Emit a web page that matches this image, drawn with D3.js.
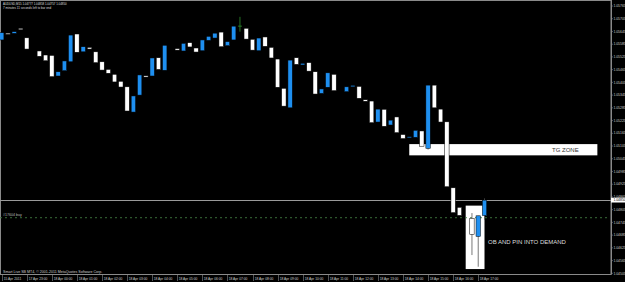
<!DOCTYPE html>
<html>
<head>
<meta charset="utf-8">
<script src="https://cdn.jsdelivr.net/npm/d3@7"></script>
<style>
  body { margin: 0; background: #000; }
  svg { display: block; }
</style>
</head>
<body>
<script>
// AUDUSD M15 bars, 15 Apr 2011 20:00 .. 18 Apr 2011 17:15
var opens = [
  1.05605, 1.05637, 1.05636, 1.05660, 1.05615, 1.05553, 1.05553, 1.05534, 1.05532, 1.05435,
  1.05460, 1.05502, 1.05633, 1.05549, 1.05570, 1.05549, 1.05502, 1.05466, 1.05443, 1.05410,
  1.05384, 1.05265, 1.05345, 1.05436, 1.05435, 1.05521, 1.05462, 1.05572, 1.05564, 1.05553,
  1.05592, 1.05567, 1.05554, 1.05603, 1.05614, 1.05642, 1.05578, 1.05605, 1.05670, 1.05660,
  1.05608, 1.05554, 1.05619, 1.05570, 1.05515, 1.05377, 1.05285, 1.05521, 1.05487, 1.05498,
  1.05455, 1.05353, 1.05382, 1.05443, 1.05364, 1.05361, 1.05384, 1.05386, 1.05323, 1.05317,
  1.05218, 1.05278, 1.05204, 1.05242, 1.05159, 1.05144, 1.05146, 1.05176, 1.05094, 1.05392,
  1.05279, 1.05219, 1.04908, 1.04816, 1.04785, 1.04764, 1.04679, 1.04777
];
var closes = [
  1.05639, 1.05633, 1.05644, 1.05653, 1.05562, 1.05553, 1.05528, 1.05507, 1.05432, 1.05455,
  1.05506, 1.05628, 1.05547, 1.05573, 1.05562, 1.05498, 1.05463, 1.05448, 1.05407, 1.05383,
  1.05270, 1.05341, 1.05440, 1.05430, 1.05520, 1.05466, 1.05580, 1.05572, 1.05557, 1.05589,
  1.05572, 1.05548, 1.05605, 1.05622, 1.05637, 1.05573, 1.05597, 1.05670, 1.05670, 1.05609,
  1.05557, 1.05614, 1.05575, 1.05520, 1.05382, 1.05293, 1.05510, 1.05490, 1.05495, 1.05458,
  1.05350, 1.05374, 1.05450, 1.05366, 1.05364, 1.05384, 1.05391, 1.05330, 1.05316, 1.05215,
  1.05279, 1.05198, 1.05227, 1.05168, 1.05140, 1.05149, 1.05179, 1.05104, 1.05392, 1.05285,
  1.05218, 1.04913, 1.04791, 1.04778, 1.04785, 1.04689, 1.04776, 1.04850
];
// wicks that can actually be seen (the rest are black on black)
var wickIdx  = [38, 68, 75, 76, 77];
var wickHigh = [1.05714, 1.05392, 1.04789, 1.04776, 1.04858];
var wickLow  = [1.05644, 1.05088, 1.04591, 1.04536, 1.04757];

var priceTicks = [
  1.05765, 1.05705, 1.05645, 1.05585, 1.05525, 1.05465, 1.05405, 1.05345, 1.05285, 1.05225, 1.05165,
  1.05105, 1.05045, 1.04985, 1.04925, 1.04865, 1.04805, 1.04745, 1.04685, 1.04625, 1.04565, 1.04505
];
var timeIdx = [0, 4, 8, 12, 16, 20, 24, 28, 32, 36, 40, 44, 48, 52, 56, 60, 64, 68, 72, 76];
var timeLabels = [
  "15 Apr 2011", "17 Apr 23:00", "18 Apr 00:00", "18 Apr 01:00", "18 Apr 02:00", "18 Apr 03:00",
  "18 Apr 04:00", "18 Apr 05:00", "18 Apr 06:00", "18 Apr 07:00", "18 Apr 08:00", "18 Apr 09:00",
  "18 Apr 10:00", "18 Apr 11:00", "18 Apr 12:00", "18 Apr 13:00", "18 Apr 14:00", "18 Apr 15:00",
  "18 Apr 16:00", "18 Apr 17:00"
];

var bidPrice = 1.04850;
var orderPrice = 1.04767;
// rectangles: [fromBar, toBar, top, bottom]
var tgZone = [65, 95, 1.05114, 1.05061];
var obZone = [74, 77, 1.04824, 1.04525];

var W = 625, H = 282, axisX = 611, bottomY = 274.5;

var svg = d3.select("body").append("svg")
    .attr("width", W)
    .attr("height", H)
    .style("background", "#000")
    .style("font-family", "'Liberation Sans', Arial, sans-serif");

var x = d3.scaleLinear().domain([0, 77]).range([1.7, 484.5]);
var y = d3.scaleLinear().domain([1.04505, 1.05765]).range([273.3, 6]);

// frame
svg.append("rect")
    .attr("x", 0.5).attr("y", 0.5)
    .attr("width", axisX - 0.5).attr("height", bottomY - 0.5)
    .attr("fill", "none").attr("stroke", "#8a8a8a").attr("stroke-width", 1);

// zones
svg.append("rect")
    .attr("x", x(tgZone[0])).attr("y", y(tgZone[2]))
    .attr("width", x(tgZone[1]) - x(tgZone[0]))
    .attr("height", y(tgZone[3]) - y(tgZone[2]))
    .attr("fill", "#fff");
svg.append("rect")
    .attr("x", x(obZone[0])).attr("y", y(obZone[2]))
    .attr("width", x(obZone[1]) - x(obZone[0]))
    .attr("height", y(obZone[3]) - y(obZone[2]))
    .attr("fill", "#fff");

// bid line
svg.append("line")
    .attr("x1", 0).attr("x2", axisX)
    .attr("y1", Math.round(y(bidPrice)) + 0.5).attr("y2", Math.round(y(bidPrice)) + 0.5)
    .attr("stroke", "#9a9a9a").attr("stroke-width", 1);

// order line
svg.append("line")
    .attr("x1", 0).attr("x2", axisX - 3)
    .attr("y1", y(orderPrice)).attr("y2", y(orderPrice))
    .attr("stroke", "#3f7a3f").attr("stroke-width", 0.9)
    .attr("stroke-dasharray", "2,3");
svg.append("text")
    .attr("x", 3).attr("y", y(orderPrice) - 1.3)
    .attr("font-size", 3.6).attr("fill", "#bbb")
    .text("#17604 buy");

// candles
var bars = d3.range(opens.length);
var g = svg.append("g");

g.selectAll("line.wick")
  .data(wickIdx)
  .enter().append("line")
    .attr("class", "wick")
    .attr("x1", (d) => x(d)).attr("x2", (d) => x(d))
    .attr("y1", (d, i) => y(wickHigh[i]))
    .attr("y2", (d, i) => y(wickLow[i]))
    .attr("stroke", (d) => d === 38 ? "#2f8f2f" : "#555")
    .attr("stroke-width", 0.8);

// the green doji mark
svg.append("line")
    .attr("x1", x(38) - 2).attr("x2", x(38) + 2)
    .attr("y1", y(closes[38])).attr("y2", y(closes[38]))
    .attr("stroke", "#2f8f2f").attr("stroke-width", 0.8);

g.selectAll("rect.body")
  .data(bars.filter((i) => opens[i] !== closes[i]))
  .enter().append("rect")
    .attr("class", "body")
    .attr("x", (i) => x(i) - 2.2)
    .attr("width", 4.4)
    .attr("y", (i) => y(Math.max(opens[i], closes[i])))
    .attr("height", (i) => Math.max(1.2, Math.abs(y(opens[i]) - y(closes[i]))))
    .attr("fill", (i) => closes[i] > opens[i] ? "#1e8ff0" : "#fff")
    .attr("stroke", "#000")
    .attr("stroke-width", 0.5);

// zone texts
svg.append("text")
    .attr("x", 552).attr("y", y(tgZone[3]) - 3.7)
    .attr("font-size", 6).attr("fill", "#333")
    .text("TG ZONE");
svg.append("text")
    .attr("x", 488).attr("y", 244.2)
    .attr("font-size", 6).attr("fill", "#ddd")
    .text("OB AND PIN INTO DEMAND");

// price axis
svg.append("line")
    .attr("x1", axisX + 0.5).attr("x2", axisX + 0.5)
    .attr("y1", 0).attr("y2", bottomY)
    .attr("stroke", "#8a8a8a");
var pa = svg.append("g").selectAll("g")
  .data(priceTicks)
  .enter().append("g")
    .attr("transform", (d) => "translate(" + axisX + "," + y(d) + ")");
pa.append("line")
    .attr("x1", 0).attr("x2", 2)
    .attr("stroke", "#8a8a8a").attr("stroke-width", 0.6);
pa.append("text")
    .attr("x", 2.4).attr("dy", 1.2)
    .attr("font-size", 3.4).attr("fill", "#ccc")
    .text((d) => d.toFixed(5));

// current price tag
svg.append("rect")
    .attr("x", axisX).attr("y", y(bidPrice) - 2.4)
    .attr("width", W - axisX).attr("height", 4.8)
    .attr("fill", "#fff");
svg.append("text")
    .attr("x", axisX + 2.4).attr("y", y(bidPrice) + 1.2)
    .attr("font-size", 3.4).attr("fill", "#000")
    .text(bidPrice.toFixed(5));

// time axis
var ta = svg.append("g").selectAll("g")
  .data(timeIdx)
  .enter().append("g")
    .attr("transform", (d) => "translate(" + (Math.round(x(d)) + 0.5) + "," + bottomY + ")");
ta.append("line")
    .attr("y1", 0).attr("y2", 6.5)
    .attr("stroke", "#8a8a8a").attr("stroke-width", 0.6);
ta.append("text")
    .attr("x", 1.2).attr("y", 5.6)
    .attr("font-size", 3.3).attr("fill", "#ccc")
    .text((d, i) => timeLabels[i]);

// header and footer
svg.append("text")
    .attr("x", 3).attr("y", 5.3)
    .attr("font-size", 2.9).attr("fill", "#ddd")
    .text("AUDUSD,M15  1.04777 1.04858 1.04757 1.04850");
svg.append("text")
    .attr("x", 3).attr("y", 9.3)
    .attr("font-size", 3).attr("fill", "#ddd")
    .text("7 minutes 11 seconds left to bar end");
svg.append("text")
    .attr("x", 3).attr("y", 272.8)
    .attr("font-size", 3.6).attr("fill", "#ccc")
    .text("Smart Live SB MT4, \u00a9 2001-2011 MetaQuotes Software Corp.");
</script>
</body>
</html>
